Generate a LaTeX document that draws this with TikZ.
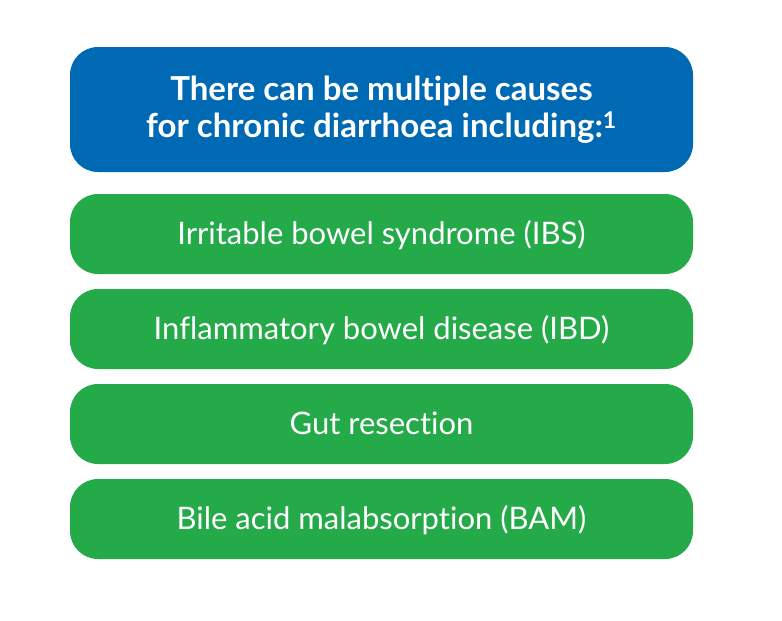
\documentclass[tikz,border=0pt]{standalone}
\usepackage{fontspec}
\setmainfont[Ligatures={NoCommon}]{Lato}
\usetikzlibrary{positioning}
\definecolor{headblue}{HTML}{0069B4}
\definecolor{causegreen}{HTML}{25AA4A}
\tikzstyle{heading} = [rectangle, rounded corners=28pt, minimum width=623pt, minimum height=125pt, align=center, fill=headblue, text=white, font=\fontsize{33}{37}\selectfont\bfseries]
\tikzstyle{cause} = [rectangle, rounded corners=28pt, minimum width=623pt, minimum height=80pt, text height=27pt, text depth=6pt, text centered, fill=causegreen, text=white, font=\fontsize{31}{36}\selectfont]

\begin{document}
\begin{tikzpicture}[node distance=95pt]
\useasboundingbox (0,0) rectangle (782pt,-621pt);
\node (head) [heading] at (381.5pt,-109.5pt) {There can be multiple causes\\for chronic diarrhoea including:\textsuperscript{1}};
\node (ibs) [cause, below of=head, yshift=-29.5pt] {Irritable bowel syndrome (IBS)};
\node (ibd) [cause, below of=ibs] {Inflammatory bowel disease (IBD)};
\node (gut) [cause, below of=ibd] {Gut resection};
\node (bam) [cause, below of=gut] {Bile acid malabsorption (BAM)};
\end{tikzpicture}
\end{document}
